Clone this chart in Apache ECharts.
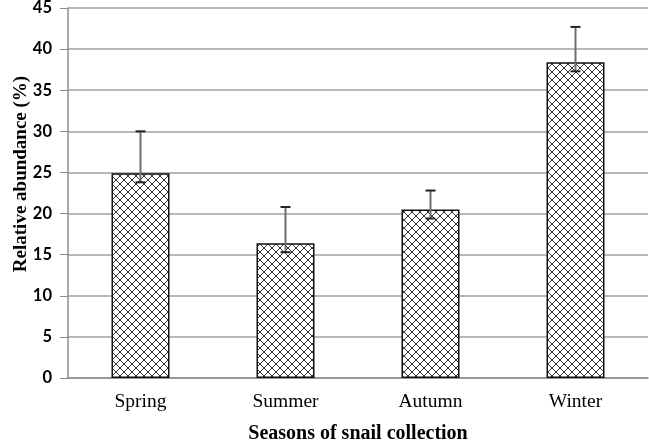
<!DOCTYPE html>
<html>
<head>
<meta charset="utf-8">
<style>
  html, body { margin: 0; padding: 0; background: #fff; }
  #chart { width: 649px; height: 446px; }
</style>
<script src="https://cdn.jsdelivr.net/npm/echarts@6/dist/echarts.min.js"></script>
</head>
<body>
<div id="chart"></div>
<script>
  // data
  const categories = ['Spring', 'Summer', 'Autumn', 'Winter'];
  const values = [24.9, 16.4, 20.5, 38.4];
  const errUpper = [30.0, 20.8, 22.8, 42.7];
  const errLower = [23.8, 15.3, 19.4, 37.3];
  const yTicks = [0, 5, 10, 15, 20, 25, 30, 35, 40, 45];

  // cross-hatch fill like the excel pattern
  const tile = document.createElement('canvas');
  tile.width = 8;
  tile.height = 8;
  const ctx = tile.getContext('2d');
  ctx.fillStyle = '#fff';
  ctx.fillRect(0, 0, 8, 8);
  ctx.strokeStyle = '#333';
  ctx.lineWidth = 1;
  ctx.beginPath();
  ctx.moveTo(0, 0); ctx.lineTo(8, 8);
  ctx.moveTo(8, 0); ctx.lineTo(0, 8);
  ctx.stroke();

  const chart = echarts.init(document.getElementById('chart'));
  chart.setOption({
    animation: false,
    grid: { left: 68, right: 1, top: 8, bottom: 68, outerBoundsMode: 'none', containLabel: false },
    xAxis: {
      type: 'category',
      data: categories,
      axisLine: { lineStyle: { color: '#8c8c8c', width: 1.5 } },
      axisTick: { length: 6, lineStyle: { color: '#8c8c8c' } },
      axisLabel: {
        margin: 14,
        fontFamily: 'Liberation Serif',
        fontSize: 19.5,
        color: '#000'
      },
      name: 'Seasons of snail collection',
      nameLocation: 'middle',
      nameGap: 46,
      nameTextStyle: {
        fontFamily: 'Liberation Serif',
        fontWeight: 'bold',
        fontSize: 20,
        color: '#000'
      }
    },
    yAxis: {
      type: 'value',
      min: yTicks[0],
      max: yTicks[yTicks.length - 1],
      interval: 5,
      axisLine: { show: true, lineStyle: { color: '#8c8c8c', width: 1.5 } },
      axisTick: { show: true, length: 8, lineStyle: { color: '#8c8c8c' } },
      splitLine: { lineStyle: { color: '#a0a0a0', width: 1.5 } },
      axisLabel: {
        margin: 16,
        fontFamily: 'Lato',
        fontWeight: 'bold',
        fontSize: 16.5,
        color: '#000'
      }
    },
    graphic: [{
      type: 'text',
      x: 21,
      y: 174,
      rotation: Math.PI / 2,
      style: {
        text: 'Relative abundance (%)',
        fontFamily: 'Liberation Serif',
        fontWeight: 'bold',
        fontSize: 19,
        fill: '#000',
        align: 'center',
        verticalAlign: 'middle'
      }
    }],
    series: [
      {
        type: 'bar',
        data: values,
        barWidth: '40%',
        itemStyle: {
          color: { image: tile, repeat: 'repeat' },
          borderColor: '#111',
          borderWidth: 1.5
        }
      },
      {
        type: 'custom',
        z: 5,
        data: categories.map((c, i) => [i, errLower[i], errUpper[i], values[i]]),
        renderItem: function (params, api) {
          const i = api.value(0);
          const lo = api.coord([i, api.value(1)]);
          const hi = api.coord([i, api.value(2)]);
          const half = 5;
          return {
            type: 'group',
            children: [
              {
                type: 'line',
                shape: { x1: hi[0], y1: hi[1], x2: lo[0], y2: lo[1] },
                style: { stroke: '#6e6e6e', lineWidth: 2 }
              },
              {
                type: 'line',
                shape: { x1: hi[0] - half, y1: hi[1], x2: hi[0] + half, y2: hi[1] },
                style: { stroke: '#222', lineWidth: 2 }
              },
              {
                type: 'line',
                shape: { x1: lo[0] - half, y1: lo[1], x2: lo[0] + half, y2: lo[1] },
                style: { stroke: '#222', lineWidth: 2 }
              }
            ]
          };
        }
      }
    ]
  });
</script>
</body>
</html>
